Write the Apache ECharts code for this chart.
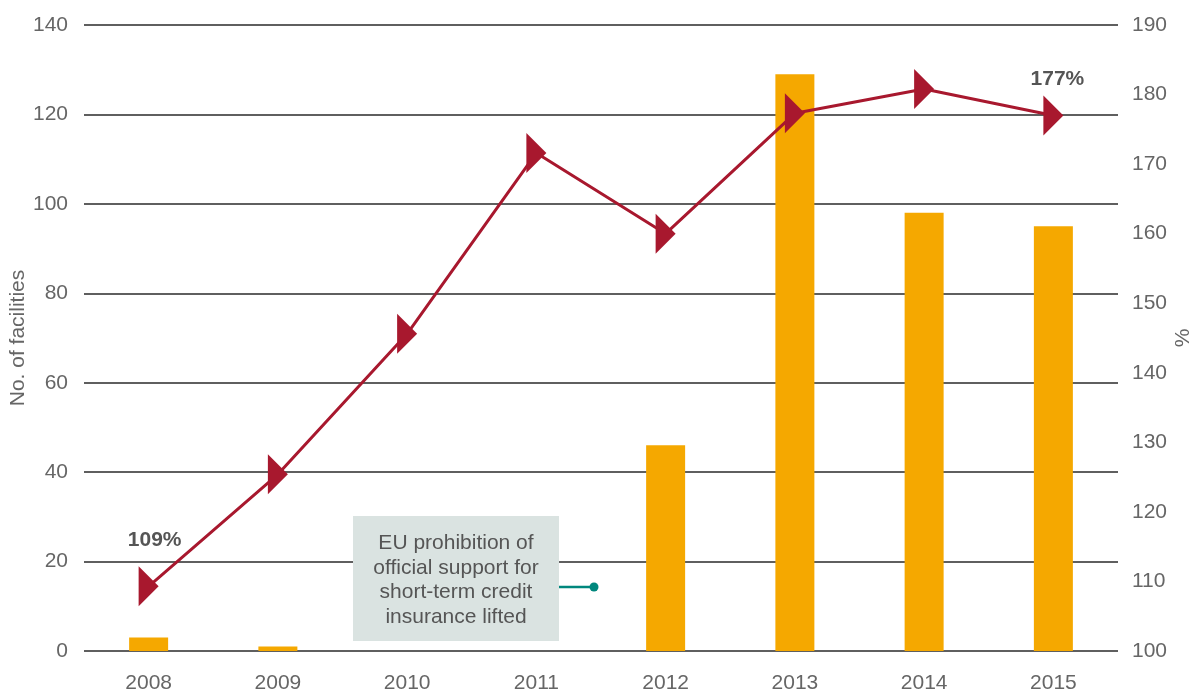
<!DOCTYPE html>
<html>
<head>
<meta charset="utf-8">
<script src="https://cdn.jsdelivr.net/npm/echarts@6/dist/echarts.min.js"></script>
<style>
html,body{margin:0;padding:0;background:#fff;}
#chart{width:1193px;height:691px;}
</style>
</head>
<body>
<div id="chart"></div>
<script>
var years = ['2008','2009','2010','2011','2012','2013','2014','2015'];
var facilities = [3, 1, 0, 0, 46, 129, 98, 95];
var percent = [109.3, 125.4, 145.6, 171.6, 160, 177.3, 180.8, 177];
var leftTicks = {min: 0, max: 140, interval: 20};
var rightTicks = {min: 100, max: 190, interval: 10};
var noteLines = ['EU prohibition of', 'official support for', 'short-term credit', 'insurance lifted'];

var FONT = 'Liberation Sans';
var GRAY = '#666666';
var chart = echarts.init(document.getElementById('chart'));

var lineData = percent.map(function (v, i) {
  var item = {value: v};
  if (i === 0) {
    item.label = {show: true, formatter: '109%', position: 'inside', offset: [6, -46]};
  } else if (i === percent.length - 1) {
    item.label = {show: true, formatter: '177%', position: 'inside', offset: [4, -36]};
  }
  return item;
});

chart.setOption({
  animation: false,
  grid: {left: 84, right: 75, top: 25, bottom: 40, containLabel: false, outerBoundsMode: 'none'},
  xAxis: {
    type: 'category',
    data: years,
    axisLine: {show: false},
    axisTick: {show: false},
    axisLabel: {color: GRAY, fontFamily: FONT, fontSize: 21, margin: 22}
  },
  yAxis: [
    {
      type: 'value',
      min: leftTicks.min, max: leftTicks.max, interval: leftTicks.interval,
      name: 'No. of facilities',
      nameLocation: 'middle',
      nameGap: 66,
      nameMoveOverlap: false,
      nameTextStyle: {color: GRAY, fontFamily: FONT, fontSize: 21, verticalAlign: 'middle'},
      axisLine: {show: false},
      axisTick: {show: false},
      axisLabel: {color: GRAY, fontFamily: FONT, fontSize: 21, margin: 16},
      splitLine: {show: true, lineStyle: {color: '#5f5f5f', width: 2}}
    },
    {
      type: 'value',
      min: rightTicks.min, max: rightTicks.max, interval: rightTicks.interval,
      name: '%',
      nameLocation: 'middle',
      nameGap: 65,
      nameMoveOverlap: false,
      nameTextStyle: {color: GRAY, fontFamily: FONT, fontSize: 21, verticalAlign: 'middle'},
      axisLine: {show: false},
      axisTick: {show: false},
      axisLabel: {color: GRAY, fontFamily: FONT, fontSize: 21, margin: 14},
      splitLine: {show: false}
    }
  ],
  series: [
    {
      type: 'bar',
      yAxisIndex: 0,
      data: facilities,
      barWidth: 39,
      itemStyle: {color: '#F5A800'}
    },
    {
      type: 'line',
      yAxisIndex: 1,
      data: lineData,
      symbol: 'triangle',
      symbolSize: [40, 20],
      symbolRotate: -90,
      symbolKeepAspect: false,
      lineStyle: {color: '#A8182E', width: 3},
      itemStyle: {color: '#A8182E'},
      label: {color: '#555555', fontFamily: FONT, fontSize: 21, fontWeight: 'bold'},
      z: 5
    }
  ],
  graphic: [
    {
      type: 'line', z: 10,
      shape: {x1: 559, y1: 587, x2: 594, y2: 587},
      style: {stroke: '#00877D', lineWidth: 2.5}
    },
    {
      type: 'circle', z: 10,
      shape: {cx: 594, cy: 587, r: 4.5},
      style: {fill: '#00877D'}
    },
    {
      type: 'rect', z: 10,
      shape: {x: 353, y: 516, width: 206, height: 125},
      style: {fill: '#DAE3E1'}
    },
    {
      type: 'text', z: 11,
      x: 456, y: 580,
      style: {
        text: noteLines.join('\n'),
        fill: '#555555',
        font: '21px "Liberation Sans"',
        align: 'center',
        verticalAlign: 'middle',
        lineHeight: 24.5
      }
    }
  ]
});
</script>
</body>
</html>
